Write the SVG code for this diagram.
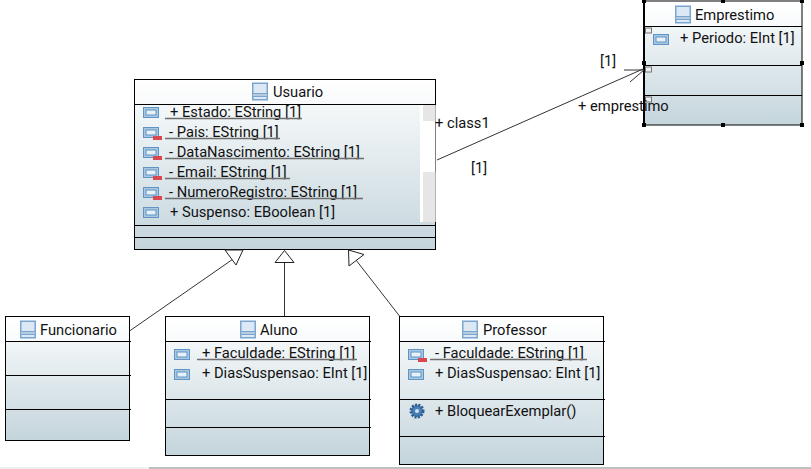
<svg xmlns="http://www.w3.org/2000/svg" width="811" height="469" viewBox="0 0 811 469">
<style>
text{font-family:Roboto,"Open Sans","Liberation Sans",sans-serif;font-size:14.700px;fill:#111}
.box{fill:url(#g);stroke:#000;stroke-width:1}
.head{fill:url(#h)}
.sep{stroke:#000;stroke-width:1;fill:none}
.ul{stroke:#6e6e6e;stroke-width:1.6;fill:none}
.edge{stroke:#333;stroke-width:1;fill:none}
.tri{fill:#fff;stroke:#222;stroke-width:1}
.hd{fill:#000}
.col{fill:#eee;stroke:#777;stroke-width:1}
</style>
<defs>
<linearGradient id="g" x1="0" y1="0" x2="0" y2="1"><stop offset="0" stop-color="#fdfefe"/><stop offset="1" stop-color="#c4d5dc"/></linearGradient>
<linearGradient id="h" x1="0" y1="0" x2="0" y2="1"><stop offset="0" stop-color="#fff"/><stop offset="1" stop-color="#f8fafb"/></linearGradient>
<symbol id="cls" viewBox="0 0 16 18" overflow="visible"><rect x="0.750" y="0.750" width="14.500" height="16.500" fill="#dce8f3" stroke="#7aa5cf" stroke-width="1.500"/><rect x="1.500" y="11" width="13" height="3" fill="#b5cbe0"/><path d="M1 11H15M1 14H15" stroke="#7aa5cf"/></symbol>
<g id="attr"><rect x="0.500" y="0.500" width="15" height="10" fill="#a9c8e4" stroke="#5f94c4"/><rect x="3" y="3" width="10" height="5" fill="#e8f1f9" stroke="#5f94c4"/></g>
<g id="attrp"><use href="#attr"/><rect x="10" y="9" width="9" height="4" fill="#dc4650"/></g>
</defs>
<rect width="811" height="469" fill="#fff"/>
<rect x="0" y="467" width="149" height="2" fill="#f0f0f0"/>
<rect x="149" y="467" width="662" height="2" fill="#c0c0c0"/>

<g id="usuario">
<rect class="box" x="134.500" y="79.500" width="301" height="170"/>
<rect class="head" x="135" y="80" width="300" height="24"/>
<rect x="420" y="105" width="15.500" height="117" fill="#fff"/>
<rect x="423" y="105" width="12.500" height="16" fill="#e6e6e6"/>
<rect x="423" y="172" width="12.500" height="50" fill="#e6e6e6"/>
<path class="sep" d="M134.500 104.500H435.500M134.500 225.500H436M134.500 237.500H436"/>
<use href="#cls" x="252" y="82" width="16" height="19"/>
<text x="273" y="97">Usuario</text>
<use href="#attr" x="143" y="107"/><text x="170" y="117">+ Estado: EString [1]</text><path class="ul" d="M165 118.500H302"/>
<use href="#attrp" x="143" y="127"/><text x="169" y="137">- Pais: EString [1]</text><path class="ul" d="M165 138.500H280"/>
<use href="#attrp" x="143" y="147"/><text x="169" y="157">- DataNascimento: EString [1]</text><path class="ul" d="M165 158.500H364"/>
<use href="#attrp" x="143" y="167"/><text x="169" y="177">- Email: EString [1]</text><path class="ul" d="M165 178.500H290"/>
<use href="#attrp" x="143" y="187"/><text x="169" y="197">- NumeroRegistro: EString [1]</text><path class="ul" d="M165 198.500H363"/>
<use href="#attr" x="143" y="207"/><text x="170" y="217">+ Suspenso: EBoolean [1]</text>
</g>

<g id="emprestimo">
<rect class="box" x="644" y="1" width="158" height="124"/>
<rect class="head" x="645" y="2" width="156" height="24"/>
<path class="sep" d="M644 26.500H802M644 65.500H802M644 95.500H802"/>
<path d="M644 1V125" stroke="#000" stroke-width="2"/>
<use href="#cls" x="675" y="5" width="16" height="19"/>
<text x="695" y="20">Emprestimo</text>
<use href="#attr" x="653" y="34"/><text x="680" y="43">+ Periodo: EInt [1]</text>
<rect class="col" x="645.500" y="28" width="6" height="5"/><rect class="col" x="645.500" y="67" width="6" height="5"/><rect class="col" x="645.500" y="97" width="6" height="5"/>
<path class="hd" d="M642 0h4v3h-4zM721 0h4v3h-4zM800 0h4v3h-4zM642 61h4v4h-4zM800 61h4v4h-4zM642 123h4v4h-4zM721 123h4v4h-4zM800 123h4v4h-4z"/>
</g>

<g id="funcionario">
<rect class="box" x="5.500" y="316.500" width="124" height="124"/>
<rect class="head" x="6" y="317" width="123" height="24"/>
<path class="sep" d="M6 341.500H131M6 375.500H131M6 409.500H131"/>
<use href="#cls" x="20" y="320" width="16" height="19"/>
<text x="40" y="335">Funcionario</text>
</g>

<g id="aluno">
<rect class="box" x="165.500" y="316.500" width="204" height="139"/>
<rect class="head" x="166" y="317" width="203" height="24"/>
<path class="sep" d="M166 341.500H371M166 399.500H371M166 427.500H371"/>
<use href="#cls" x="240" y="320" width="16" height="19"/>
<text x="260" y="335">Aluno</text>
<use href="#attr" x="174" y="349"/><text x="202" y="358">+ Faculdade: EString [1]</text><path class="ul" d="M197 359.500H357"/>
<use href="#attr" x="174" y="369"/><text x="202" y="378">+ DiasSuspensao: EInt [1]</text>
</g>

<g id="professor">
<rect class="box" x="399.500" y="316.500" width="204" height="148"/>
<rect class="head" x="400" y="317" width="203" height="24"/>
<path class="sep" d="M400 341.500H605M400 399.500H605M400 436.500H605"/>
<use href="#cls" x="462" y="320" width="16" height="19"/>
<text x="483" y="335">Professor</text>
<use href="#attrp" x="408" y="349"/><text x="435" y="358">- Faculdade: EString [1]</text><path class="ul" d="M430 359.500H587"/>
<use href="#attr" x="408" y="369"/><text x="435" y="378">+ DiasSuspensao: EInt [1]</text>
<circle cx="417" cy="411" r="6" fill="#4a7fb5" stroke="#2f5f92" stroke-width="3" stroke-dasharray="2 1.200"/><circle cx="417" cy="411" r="2" fill="#cfe0ef"/>
<text x="435" y="416">+ BloquearExemplar()</text>
</g>

<g id="connectors">
<path class="edge" d="M129.500 331L236 257"/>
<path class="tri" d="M225 250L243 250L236 265Z"/>
<path class="edge" d="M284.500 316V262"/>
<path class="tri" d="M275 262.500L284.500 250.500L294 262.500Z"/>
<path class="edge" d="M399.500 316L356 260"/>
<path class="tri" d="M348.500 250L364 254.500L349 266Z"/>
<path class="edge" d="M437 160L643 69M624 70H644M630 82L644 70"/>
<text x="435" y="128">+ class1</text>
<text x="471" y="173">[1]</text>
<text x="600" y="66">[1]</text>
<text x="578" y="111">+ emprestimo</text>
</g>
</svg>
